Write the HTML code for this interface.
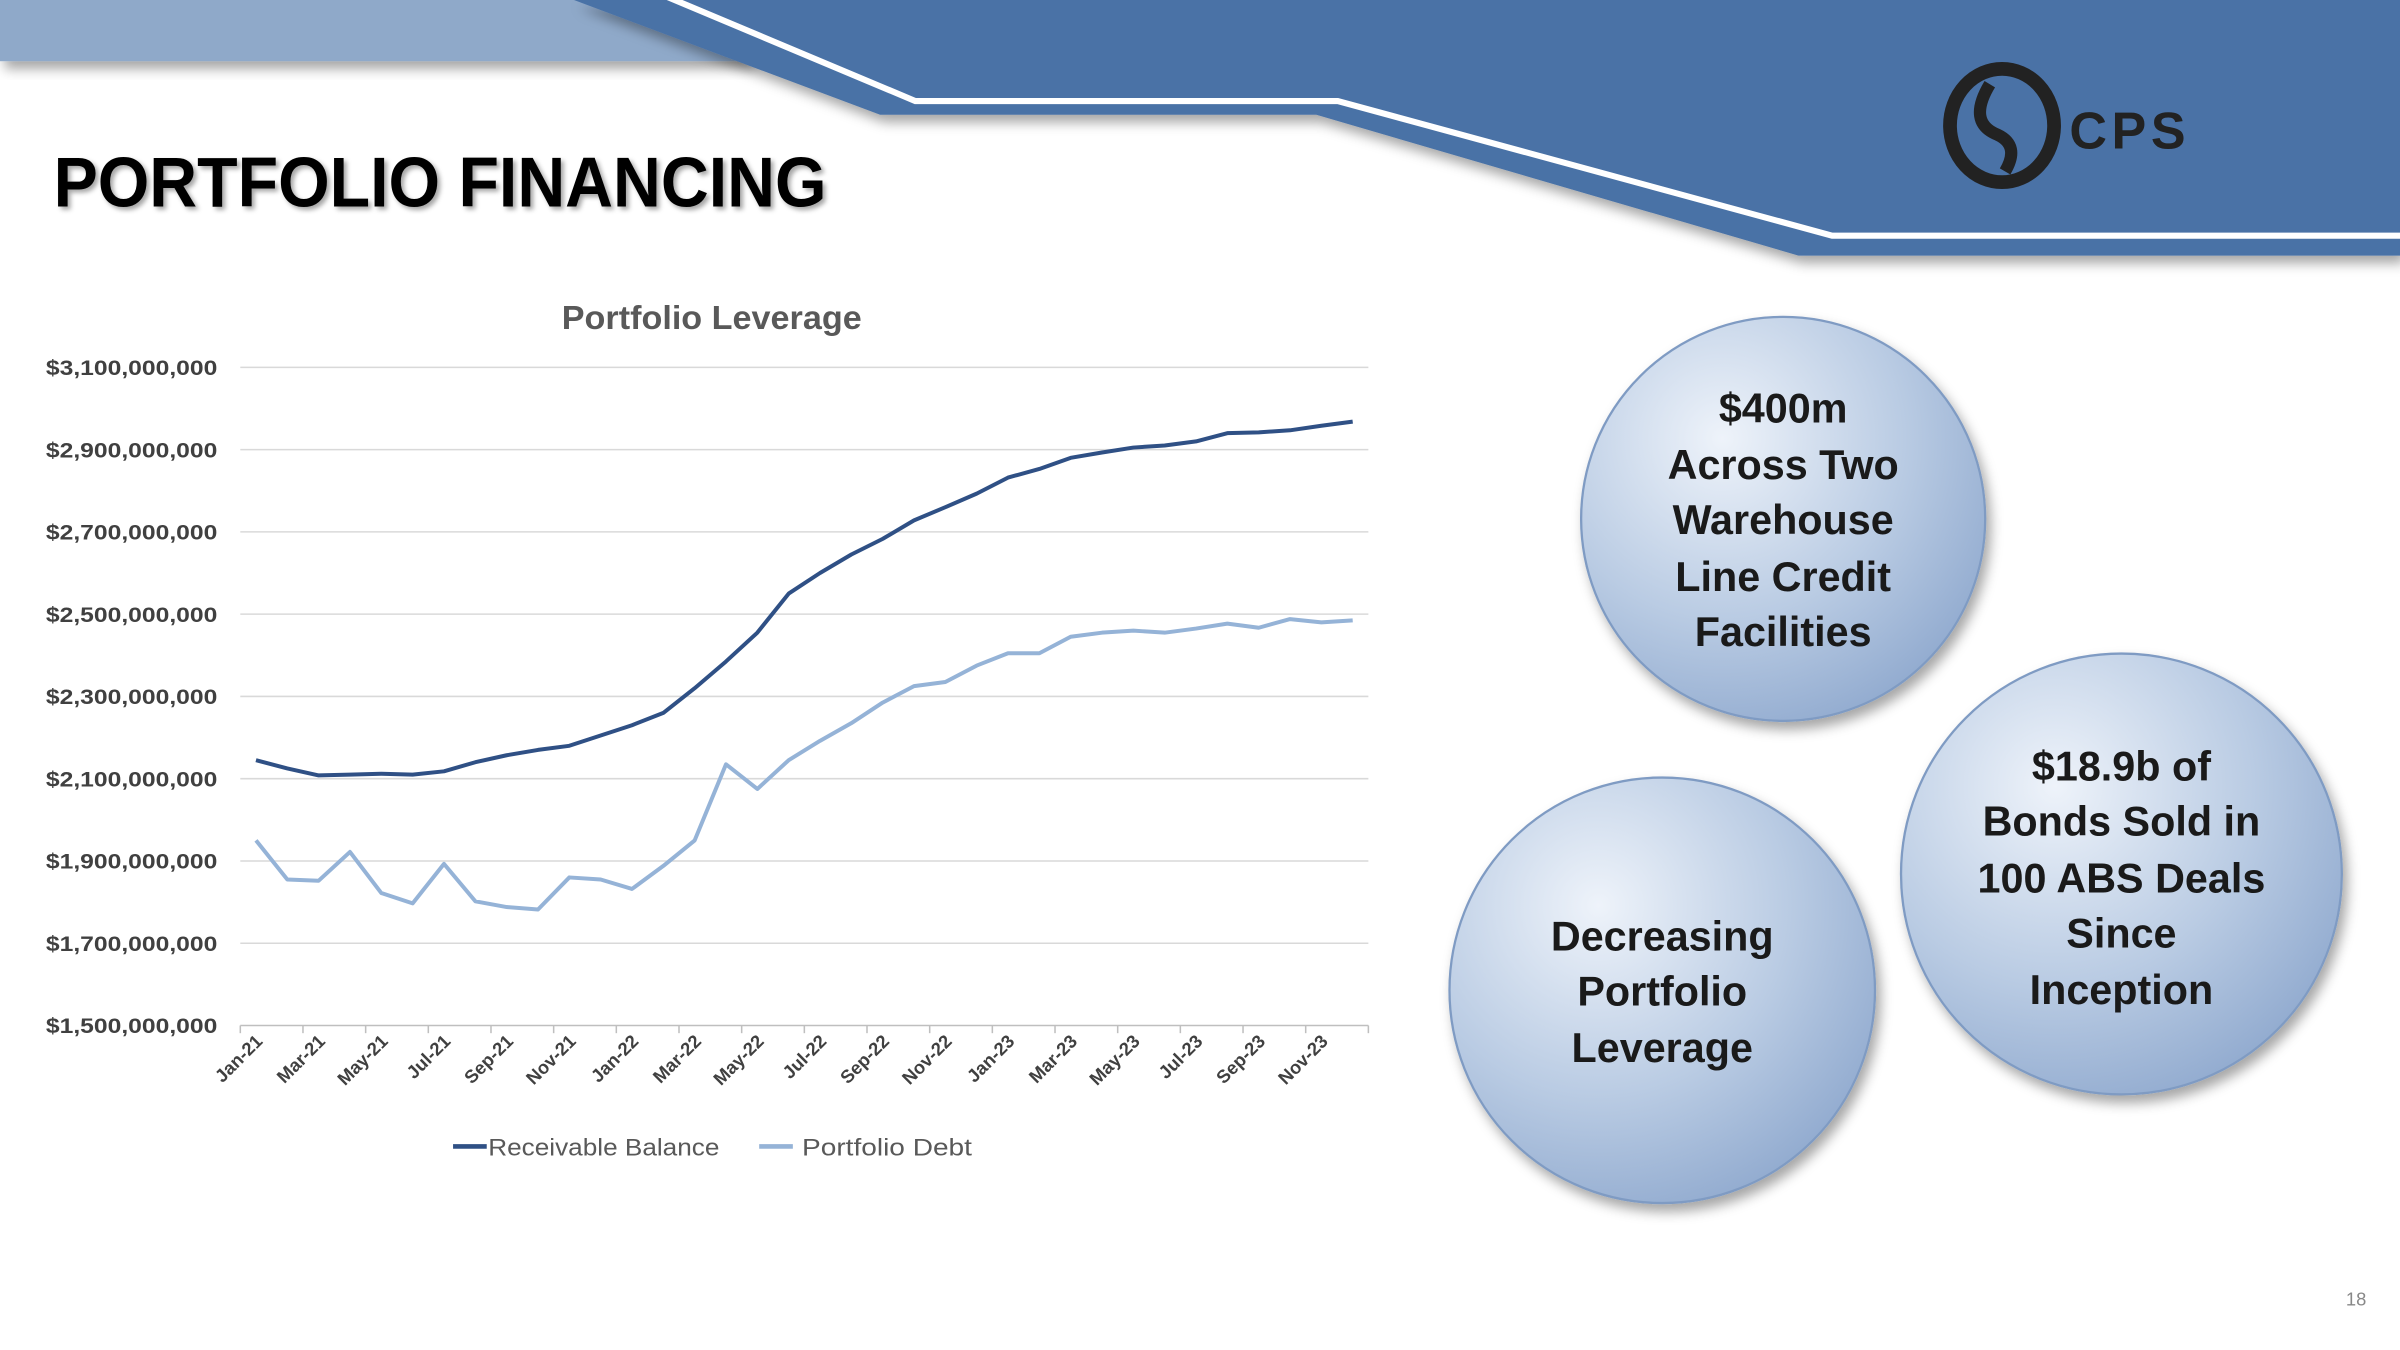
<!DOCTYPE html>
<html><head><meta charset="utf-8"><style>
html,body{margin:0;padding:0;background:#fff;}
svg{display:block;}
text{font-family:"Liberation Sans",sans-serif;}
</style></head><body>
<svg id="s" width="2400" height="1350" viewBox="0 0 1568 882" xmlns="http://www.w3.org/2000/svg">
<defs>
<radialGradient id="bub" cx="0.35" cy="0.3" r="0.75">
<stop offset="0" stop-color="#eef3fa"/><stop offset="0.6" stop-color="#b9cbe3"/><stop offset="1" stop-color="#93acd0"/>
</radialGradient>
<filter id="sh" x="-20%" y="-20%" width="150%" height="150%"><feDropShadow dx="3" dy="5" stdDeviation="4" flood-color="#000" flood-opacity="0.35"/></filter>
<filter id="tsh"><feDropShadow dx="2" dy="2" stdDeviation="1.5" flood-color="#000" flood-opacity="0.35"/></filter>
</defs>
<g>
<rect x="0" y="0" width="490" height="40" fill="#8fa9c9" filter="url(#sh)"/>
<polygon points="375,0 1568,0 1568,167 1175,167 860,75 575,75" fill="#4a72a6" filter="url(#sh)"/>
<polygon points="438,0 1568,0 1568,152 1197,152 874,64 598,64" fill="#4a72a6"/>
<polyline points="436,-2 598,66 874,66 1197,154 1568,154" fill="none" stroke="#fff" stroke-width="4"/>
</g>
<g>
<ellipse cx="1308" cy="82" rx="34" ry="37" fill="none" stroke="#222" stroke-width="9"/>
<path d="M1300 55 Q1285 80 1305 88 Q1320 95 1310 112" fill="none" stroke="#222" stroke-width="8"/>
<text x="1352" y="97" font-size="34" font-weight="bold" fill="#222" letter-spacing="3">CPS</text>
</g>
<text x="35" y="135" font-size="46" font-weight="bold" fill="#000" textLength="505" lengthAdjust="spacingAndGlyphs" filter="url(#tsh)">PORTFOLIO FINANCING</text>
<text x="465" y="215" text-anchor="middle" font-size="22" font-weight="bold" fill="#595959" textLength="196" lengthAdjust="spacingAndGlyphs">Portfolio Leverage</text>
<g id="grid"></g><g id="axes"></g><g id="series"></g>
<g>
<line x1="296" y1="749" x2="318" y2="749" stroke="#2f5085" stroke-width="3"/>
<text x="319" y="755" font-size="16" fill="#595959" textLength="151" lengthAdjust="spacingAndGlyphs">Receivable Balance</text>
<line x1="496" y1="749" x2="518" y2="749" stroke="#95b3d7" stroke-width="3"/>
<text x="524" y="755" font-size="16" fill="#595959" textLength="111" lengthAdjust="spacingAndGlyphs">Portfolio Debt</text>
</g>
<g>
<circle cx="1165" cy="339" r="132" fill="url(#bub)" stroke="#7f9bc3" stroke-width="1.5" filter="url(#sh)"/>
<g font-size="27" font-weight="bold" fill="#1a1a1a" text-anchor="middle">
<text x="1165" y="276">$400m</text><text x="1165" y="313">Across Two</text><text x="1165" y="349">Warehouse</text><text x="1165" y="386">Line Credit</text><text x="1165" y="422">Facilities</text></g>
</g>
<g>
<circle cx="1386" cy="571" r="144" fill="url(#bub)" stroke="#7f9bc3" stroke-width="1.5" filter="url(#sh)"/>
<g font-size="27" font-weight="bold" fill="#1a1a1a" text-anchor="middle">
<text x="1386" y="510">$18.9b of</text><text x="1386" y="546">Bonds Sold in</text><text x="1386" y="583">100 ABS Deals</text><text x="1386" y="619">Since</text><text x="1386" y="656">Inception</text></g>
</g>
<g>
<circle cx="1086" cy="647" r="139" fill="url(#bub)" stroke="#7f9bc3" stroke-width="1.5" filter="url(#sh)"/>
<g font-size="27" font-weight="bold" fill="#1a1a1a" text-anchor="middle">
<text x="1086" y="621">Decreasing</text><text x="1086" y="657">Portfolio</text><text x="1086" y="694">Leverage</text></g>
</g>
<text x="1546" y="853" text-anchor="end" font-size="12" fill="#888">18</text>
</svg>
<script>
const months=["Jan","Feb","Mar","Apr","May","Jun","Jul","Aug","Sep","Oct","Nov","Dec"];
const categories=[];
for(const y of ["21","22","23"]) for(const m of months) categories.push(m+"-"+y);
const receivable=[2145,2125,2108,2110,2112,2110,2118,2140,2157,2170,2180,2205,2230,2260,2320,2385,2455,2550,2600,2645,2683,2728,2760,2793,2832,2853,2880,2893,2905,2910,2920,2940,2942,2947,2958,2968];
const debt=[1950,1855,1852,1922,1822,1797,1893,1802,1788,1782,1860,1855,1832,1888,1950,2135,2075,2145,2192,2235,2285,2325,2335,2375,2405,2405,2445,2455,2460,2455,2465,2477,2467,2488,2480,2485];
const yTicks=[1500,1700,1900,2100,2300,2500,2700,2900,3100];
const yTickLabels=["$1,500,000,000","$1,700,000,000","$1,900,000,000","$2,100,000,000","$2,300,000,000","$2,500,000,000","$2,700,000,000","$2,900,000,000","$3,100,000,000"];
const NS="http://www.w3.org/2000/svg";
const L=157,R=894,T=240,B=670,YMIN=1500,YMAX=3100;
const bw=(R-L)/categories.length;
function xs(i){return L+bw*(i+0.5);}
function ys(v){return B-(v-YMIN)/(YMAX-YMIN)*(B-T);}
function mk(tag,attrs,parent){const e=document.createElementNS(NS,tag);for(const k in attrs)e.setAttribute(k,attrs[k]);parent.appendChild(e);return e;}
const grid=document.getElementById('grid'),axes=document.getElementById('axes'),ser=document.getElementById('series');
yTicks.forEach((v,i)=>{
 const g=mk('line',{x1:L,x2:R,y1:ys(v),y2:ys(v),stroke:i==0?'#bfbfbf':'#d9d9d9','stroke-width':1},grid);
 
 
 const t=mk('text',{x:142,y:ys(v)+5,'text-anchor':'end','font-size':14,'font-weight':'bold',fill:'#404040',textLength:112,lengthAdjust:'spacingAndGlyphs'},axes);
 t.textContent=yTickLabels[i];
 
 
});
for(let i=0;i<=categories.length;i++){
 if(i%2==0){const tk=mk('line',{x1:L+bw*i,x2:L+bw*i,y1:B,y2:B+5,stroke:'#bfbfbf'},axes);
 
 }
}
categories.forEach((c,i)=>{
 if(i%2) return;
 const x=xs(i)+5,y=681;
 const t=mk('text',{x:x,y:y,'text-anchor':'end','font-size':12,'font-weight':'bold',fill:'#404040',transform:`rotate(-45 ${x} ${y})`},axes);
 t.textContent=c;
 
 
});
function line(data,color,name){
 const p=mk('polyline',{points:data.map((v,i)=>xs(i)+','+ys(v)).join(' '),fill:'none',stroke:color,'stroke-width':2.6,'stroke-linejoin':'round'},ser);
 
 
}
line(debt,'#95b3d7','portfolio-debt-line');
line(receivable,'#2f5085','receivable-balance-line');
</script>
</body></html>
